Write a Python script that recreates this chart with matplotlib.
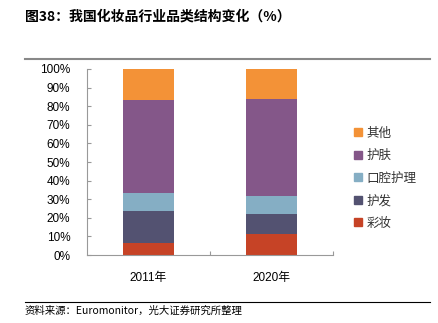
import matplotlib.pyplot as plt
from matplotlib.patches import Patch
from matplotlib.lines import Line2D

plt.rcParams['font.family'] = ['Liberation Sans', 'Noto Sans CJK SC', 'DejaVu Sans']

years = ['2011年', '2020年']
categories = ['彩妆', '护发', '口腔护理', '护肤', '其他']
# share of each category (%), bottom to top
caizhuang = [6.6, 11.1]
hufa = [17.1, 10.8]
kouqiang = [9.8, 9.8]
hufu = [49.8, 52.0]
qita = [16.7, 16.3]
series = [caizhuang, hufa, kouqiang, hufu, qita]
colors = ['#C64326', '#535271', '#85AEC4', '#845789', '#F39237']

fig = plt.figure(figsize=(4.39, 3.23), dpi=100)
ax = fig.add_axes([0.198, 0.2105, 0.5604, 0.5759])

x = range(len(years))
bottom = [0, 0]
for vals, c in zip(series, colors):
    ax.bar(x, vals, width=0.41, bottom=bottom, color=c, edgecolor='none')
    bottom = [b + v for b, v in zip(bottom, vals)]

ax.set_xlim(-0.5, 1.5)
ax.set_ylim(0, 100)
ax.set_yticks(range(0, 101, 10))
ax.set_yticklabels([f"{v}%" for v in range(0, 101, 10)], fontsize=8.5)
ax.set_xticks([0.5, 1.5])
ax.set_xticklabels([])
ax.set_xticks(list(x), minor=True)
ax.set_xticklabels(years, minor=True, fontsize=8.5)
ax.tick_params(axis='x', which='minor', length=0, pad=12)
ax.tick_params(axis='x', which='major', direction='in', length=3, color='#999999')
ax.tick_params(axis='y', direction='in', length=3, color='#999999', pad=12)
for s in ['top', 'right']:
    ax.spines[s].set_visible(False)
for s in ['left', 'bottom']:
    ax.spines[s].set_color('#999999')
    ax.spines[s].set_linewidth(0.8)

handles = [Patch(color=c, label=l) for c, l in zip(colors, categories)][::-1]
leg = fig.legend(handles=handles, loc='upper left', bbox_to_anchor=(0.795, 0.623),
                 frameon=False, fontsize=9, handlelength=0.6, handleheight=0.6,
                 handletextpad=0.4, labelspacing=0.76, borderaxespad=0)
for t in leg.get_texts():
    t.set_family(['Noto Sans CJK SC'])
    t.set_color('#333333')

fig.text(25 / 439, 1 - 17 / 323, '图38：我国化妆品行业品类结构变化（%）', fontsize=10,
         fontweight='bold', family=['Noto Sans CJK SC'], va='center', ha='left')
fig.add_artist(Line2D([25 / 439, 430 / 439], [1 - 59 / 323, 1 - 59 / 323],
                      color='#888888', lw=1.5))
fig.add_artist(Line2D([25 / 439, 430 / 439], [1 - 302 / 323, 1 - 302 / 323],
                      color='#000000', lw=0.8))
fig.text(25 / 439, 1 - 311 / 323, '资料来源：Euromonitor，光大证券研究所整理', fontsize=7.5,
         family=['Noto Sans CJK SC'], va='center', ha='left')

plt.savefig('out.png', dpi=100)
